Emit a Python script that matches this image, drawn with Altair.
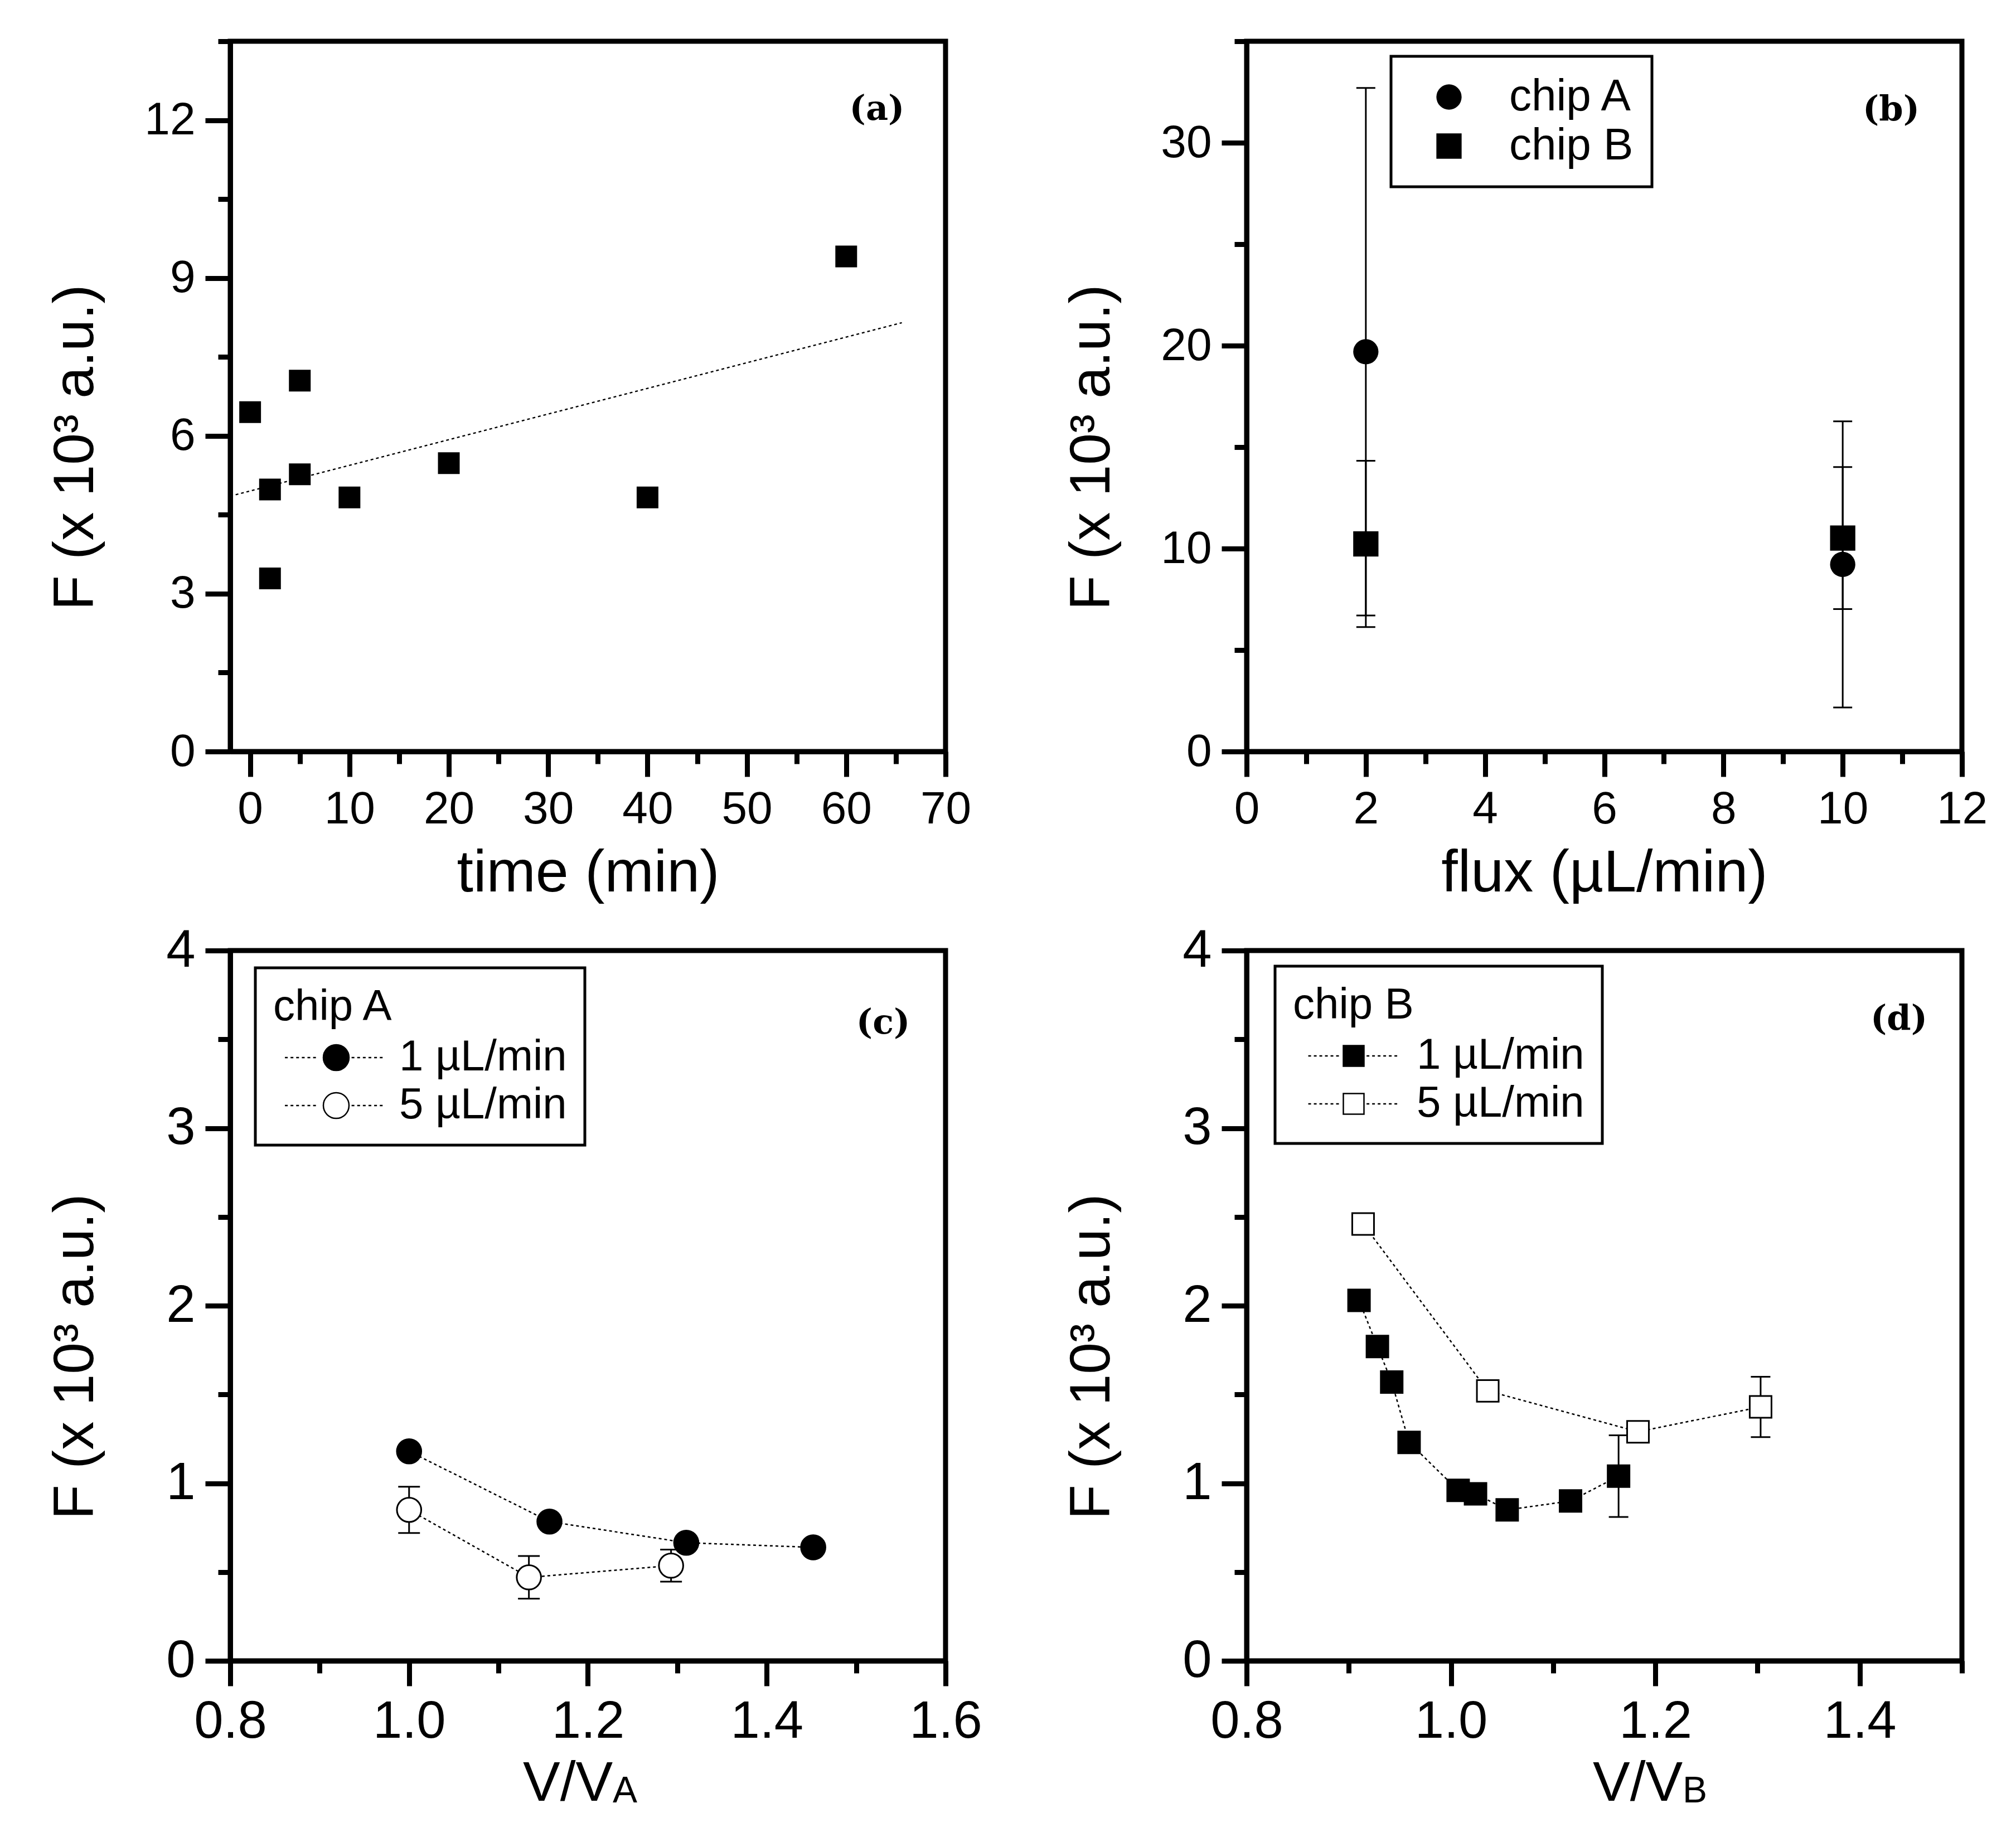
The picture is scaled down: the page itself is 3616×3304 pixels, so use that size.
import pandas as pd
import altair as alt

FONT = "Liberation Sans"
W, H = 1283, 1274

# ---------------- data ----------------
# (a) F vs time
time_min = [0, 2, 2, 5, 5, 10, 20, 40, 60]
f_time = [6.45, 4.98, 3.29, 7.05, 5.27, 4.83, 5.48, 4.83, 9.41]

# (b) F vs flux
flux = [2, 10]
f_chip_a = [19.7, 9.22]
err_chip_a = [13.0, 7.05]
f_chip_b = [10.23, 10.52]
err_chip_b = [4.1, 3.5]

# (c) chip A, F vs V/VA
FLOW = ["1 µL/min", "5 µL/min"]
va_1 = [1.0, 1.157, 1.31, 1.452]
fa_1 = [1.18, 0.784, 0.665, 0.639]
va_5 = [1.0, 1.134, 1.293]
fa_5 = [0.85, 0.47, 0.536]
erra_5 = [0.13, 0.12, 0.09]

# (d) chip B, F vs V/VB
vb_1 = [0.910, 0.928, 0.942, 0.959, 1.007, 1.024, 1.055, 1.117, 1.164]
fb_1 = [2.03, 1.77, 1.57, 1.23, 0.96, 0.94, 0.85, 0.90, 1.04]
errb_1 = [0, 0, 0, 0, 0, 0, 0, 0, 0.23]
vb_5 = [0.914, 1.036, 1.183, 1.303]
fb_5 = [2.46, 1.52, 1.29, 1.43]
errb_5 = [0, 0, 0, 0.17]

# ---------------- tables ----------------
df_a = pd.DataFrame({"t": time_min, "F": f_time})

df_b = pd.DataFrame({
    "flux": flux + flux,
    "chip": ["chip A"] * 2 + ["chip B"] * 2,
    "F": f_chip_a + f_chip_b,
    "err": err_chip_a + err_chip_b,
})
df_b["lo"] = df_b["F"] - df_b["err"]
df_b["hi"] = df_b["F"] + df_b["err"]


def flow_table(v1, f1, e1, v5, f5, e5):
    d = pd.concat([
        pd.DataFrame({"V": v1, "F": f1, "err": e1, "flow": FLOW[0]}),
        pd.DataFrame({"V": v5, "F": f5, "err": e5, "flow": FLOW[1]}),
    ], ignore_index=True)
    d["lo"] = d["F"] - d["err"]
    d["hi"] = d["F"] + d["err"]
    return d


df_c = flow_table(va_1, fa_1, [0] * len(va_1), va_5, fa_5, erra_5)
df_d = flow_table(vb_1, fb_1, errb_1, vb_5, fb_5, errb_5)


# ---------------- helpers ----------------
def axis(values, test, title=None, fmt=None, lsize=94, **kw):
    args = dict(
        values=values, grid=False, title=title,
        domainColor="black", domainWidth=9,
        tickColor="black", tickWidth=9,
        tickSize={"condition": {"test": test, "value": 45}, "value": 22},
        labelExpr=f"({test}) ? datum.label : ''",
        labelFontSize=lsize, labelColor="black", labelFlush=False,
        labelOverlap=False, labelPadding=18,
        titleFontSize=102, titleFontWeight="normal", titleColor="black",
    )
    if fmt:
        args["format"] = fmt
    args.update(kw)
    return alt.Axis(**args)


def yaxis(values, test, lsize=94, fmt=None):
    return axis(values, test, title="F (x 10³ a.u.)", fmt=fmt, lsize=lsize,
                titleX=-278, titleY=728,
                titleBaseline="middle", titleAlign="center", titleAngle=270)


def dotted(x0, x1, step, dash):
    out, x = [], x0
    while x + dash <= x1 + 1e-9:
        out.append(f"M{x:.2f},0L{x + dash:.2f},0")
        x += step
    return "".join(out)


CIRCLE = "M1,0A1,1,0,1,1,-1,0A1,1,0,1,1,1,0Z"
SQUARE = "M-1,-1L1,-1L1,1L-1,1Z"
path_c = CIRCLE + dotted(-4.0, -1.15, 0.44, 0.22) + dotted(1.2, 4.0, 0.44, 0.22)
path_d = SQUARE + dotted(-4.4, -1.2, 0.54, 0.27) + dotted(1.25, 4.75, 0.54, 0.27)


def panel_label(txt, px, py):
    return alt.Chart(pd.DataFrame({"lab": [txt]})).mark_text(
        font="DejaVu Serif", fontWeight="bold", fontSize=62, color="black"
    ).encode(x=alt.value(px), y=alt.value(py), text="lab:N")


def sub_title(main, sub, px):
    d = pd.DataFrame({"s": [main, sub], "part": ["main", "sub"]})
    base = alt.Chart(d)
    m = base.transform_filter("datum.part == 'main'").mark_text(
        font=FONT, fontSize=100, align="left", baseline="alphabetic", color="black"
    ).encode(x=alt.value(px), y=alt.value(H + 251), text="s:N")
    s = base.transform_filter("datum.part == 'sub'").mark_text(
        font=FONT, fontSize=66, align="left", baseline="alphabetic", color="black"
    ).encode(x=alt.value(px + 161), y=alt.value(H + 254), text="s:N")
    return m + s


DASH = [5, 5]

# ---------------- (a) ----------------
xa = lambda f: alt.X(f, scale=alt.Scale(domain=[-2, 70], nice=False, zero=False),
                     axis=axis(list(range(0, 75, 5)), "datum.value % 10 === 0",
                               title="time (min)", lsize=82, titleFontSize=106,
                               titleY=250, titleBaseline="alphabetic"))
ya = lambda f: alt.Y(f, scale=alt.Scale(domain=[0, 13.5], nice=False, zero=False),
                     axis=yaxis([i * 1.5 for i in range(10)], "datum.value % 3 === 0", lsize=82))

fit_a = alt.Chart(df_a).transform_regression("t", "F", extent=[-2, 65.6]).mark_line(
    color="black", strokeDash=DASH, strokeWidth=2.5
).encode(x=xa("t:Q"), y=ya("F:Q"))
pts_a = alt.Chart(df_a).mark_square(size=1520, color="black", opacity=1).encode(
    x=xa("t:Q"), y=ya("F:Q"))
chart_a = alt.layer(fit_a, pts_a, panel_label("(a)", 1160, 122)).properties(width=W, height=H)

# ---------------- (b) ----------------
xb = lambda f: alt.X(f, scale=alt.Scale(domain=[0, 12], nice=False, zero=False),
                     axis=axis(list(range(0, 13)), "datum.value % 2 === 0",
                               title="flux (µL/min)", lsize=82, titleFontSize=106,
                               titleY=250, titleBaseline="alphabetic"))
yb = lambda f: alt.Y(f, scale=alt.Scale(domain=[0, 35], nice=False, zero=False),
                     axis=yaxis(list(range(0, 40, 5)), "datum.value % 10 === 0", lsize=82))

err_b = alt.Chart(df_b).mark_rule(color="black", strokeWidth=3).encode(
    x=xb("flux:Q"), y=yb("lo:Q"), y2="hi:Q")
cap_b = alt.Chart(df_b).transform_fold(["lo", "hi"], as_=["k", "v"]).mark_tick(
    orient="horizontal", size=34, thickness=3, color="black", opacity=1
).encode(x=xb("flux:Q"), y=yb("v:Q"))
pts_b = alt.Chart(df_b).mark_point(filled=True, size=2050, color="black", opacity=1).encode(
    x=xb("flux:Q"), y=yb("F:Q"),
    shape=alt.Shape("chip:N", scale=alt.Scale(domain=["chip A", "chip B"], range=["circle", "square"]),
                    legend=alt.Legend(title=None, orient="none", legendX=259, legendY=27,
                                      strokeColor="black", padding=33, rowPadding=8,
                                      symbolSize=2050, symbolFillColor="black",
                                      symbolStrokeColor="black", symbolOffset=31,
                                      labelOffset=68, labelFontSize=80, labelLimit=1000)))
chart_b = alt.layer(err_b, cap_b, pts_b, panel_label("(b)", 1156, 123)).properties(width=W, height=H)


# ---------------- (c), (d) ----------------
def flow_panel(df, xdom, xvals, marker, msize, legend, cap, title_main, title_sub, tpx, lab, lpx, lpy):
    test = "round(datum.value * 10) % 2 === 0"
    xx = lambda f: alt.X(f, scale=alt.Scale(domain=xdom, nice=False, zero=False),
                         axis=axis(xvals, test, fmt=".1f"))
    yy = lambda f: alt.Y(f, scale=alt.Scale(domain=[0, 4], nice=False, zero=False),
                         axis=yaxis([i * 0.5 for i in range(9)], "datum.value % 1 === 0", fmt=".0f"))
    line = alt.Chart(df).mark_line(color="black", strokeDash=DASH, strokeWidth=2.5).encode(
        x=xx("V:Q"), y=yy("F:Q"), detail="flow:N")
    err = alt.Chart(df).transform_filter("datum.err > 0").mark_rule(
        color="black", strokeWidth=3).encode(x=xx("V:Q"), y=yy("lo:Q"), y2="hi:Q")
    caps = alt.Chart(df).transform_filter("datum.err > 0").transform_fold(
        ["lo", "hi"], as_=["k", "v"]).mark_tick(
        orient="horizontal", size=cap, thickness=3, color="black", opacity=1
    ).encode(x=xx("V:Q"), y=yy("v:Q"))
    pts = alt.Chart(df).mark_point(filled=True, shape=marker, size=msize, stroke="black",
                                   strokeWidth=3, opacity=1).encode(
        x=xx("V:Q"), y=yy("F:Q"),
        fill=alt.Fill("flow:N", scale=alt.Scale(domain=FLOW, range=["black", "white"]), legend=legend))
    return alt.layer(line, err, caps, pts, panel_label(lab, lpx, lpy),
                     sub_title(title_main, title_sub, tpx)).properties(width=W, height=H)


def flow_legend(title, lx, ly, path, size, soff, loff):
    return alt.Legend(title=title, orient="none", legendX=lx, legendY=ly,
                      strokeColor="black", padding=32, rowPadding=8,
                      titleFontSize=78, titleFontWeight="normal", titlePadding=12,
                      titleColor="black", titleLimit=1000,
                      symbolType=path, symbolSize=size, symbolStrokeColor="black",
                      symbolStrokeWidth=2.5, symbolOffset=soff, labelOffset=loff,
                      labelFontSize=78, labelLimit=1000)


chart_c = flow_panel(
    df_c, [0.8, 1.6], [round(0.8 + 0.1 * i, 1) for i in range(9)], "circle", 1900,
    flow_legend("chip A", 45, 31, path_c, 2116, 74, 74), 39, "V/V", "A", 525, "(c)", 1171, 130)
chart_d = flow_panel(
    df_d, [0.8, 1.5], [round(0.8 + 0.1 * i, 1) for i in range(8)], "square", 1520,
    flow_legend("chip B", 51, 28, path_d, 1370, 70, 74), 35, "V/V", "B", 621, "(d)", 1170, 123)

chart = alt.concat(
    chart_a, chart_b, chart_c, chart_d, columns=2, spacing={"row": 29, "column": 136}
).resolve_scale(
    fill="independent", shape="independent"
).properties(
    padding={"left": 71, "top": 20, "right": 10, "bottom": 10}
).configure_view(
    stroke="black", strokeWidth=9
).configure_axis(
    labelFont=FONT, titleFont=FONT
).configure_legend(
    labelFont=FONT, titleFont=FONT, labelColor="black", strokeWidth=5
)

chart.save("out.html", embed_options={"renderer": "svg", "actions": False})
